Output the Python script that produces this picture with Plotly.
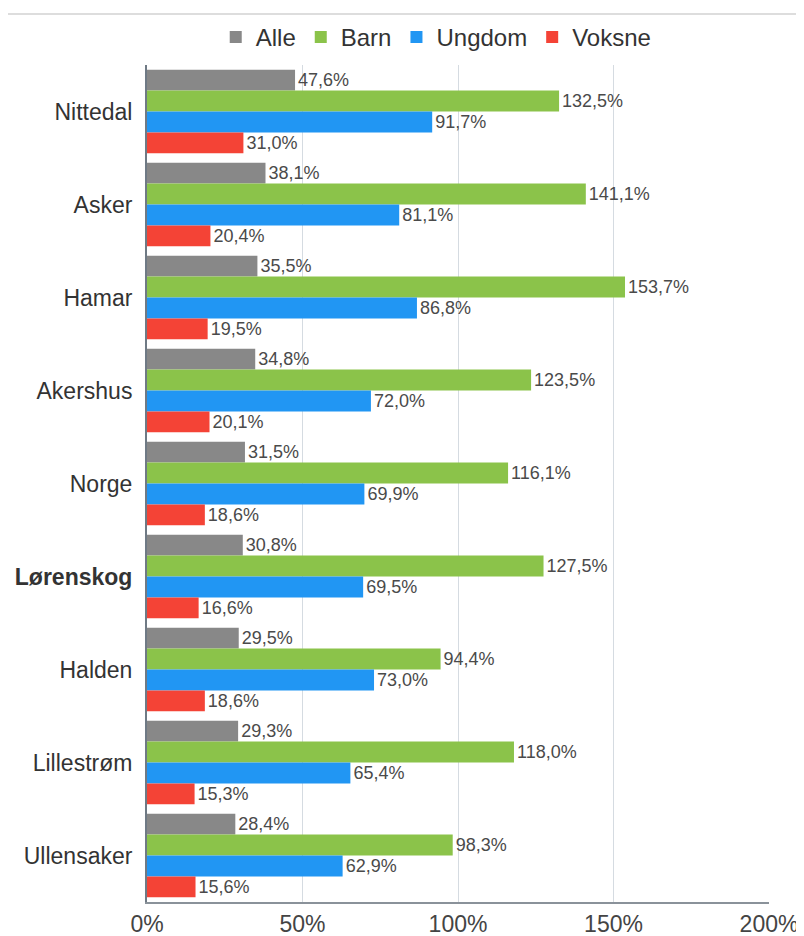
import plotly.graph_objects as go

categories = ["Nittedal", "Asker", "Hamar", "Akershus", "Norge",
              "Lørenskog", "Halden", "Lillestrøm", "Ullensaker"]
tick_labels = ["Nittedal", "Asker", "Hamar", "Akershus", "Norge",
               "<b>Lørenskog</b>", "Halden", "Lillestrøm", "Ullensaker"]

alle = [47.6, 38.1, 35.5, 34.8, 31.5, 30.8, 29.5, 29.3, 28.4]
barn = [132.5, 141.1, 153.7, 123.5, 116.1, 127.5, 94.4, 118.0, 98.3]
ungdom = [91.7, 81.1, 86.8, 72.0, 69.9, 69.5, 73.0, 65.4, 62.9]
voksne = [31.0, 20.4, 19.5, 20.1, 18.6, 16.6, 18.6, 15.3, 15.6]

series = [
    ("Alle", alle, "#888888"),
    ("Barn", barn, "#8bc34a"),
    ("Ungdom", ungdom, "#2196f3"),
    ("Voksne", voksne, "#f44336"),
]


def fmt(v):
    return f"{v:.1f}".replace(".", ",") + "%"


fig = go.Figure()
for name, vals, color in series:
    fig.add_trace(
        go.Bar(
            y=categories,
            x=vals,
            name=name,
            orientation="h",
            marker=dict(color=color, line=dict(width=0)),
            text=[fmt(v) for v in vals],
            textposition="outside",
            constraintext="none",
            cliponaxis=False,
            textfont=dict(size=18, color="#4a4a4a"),
        )
    )

# page body adds an 8px offset, so the figure is 8px smaller each way
fig.update_layout(
    width=796,
    height=928,
    barmode="group",
    bargap=0.1,
    bargroupgap=0,
    plot_bgcolor="white",
    paper_bgcolor="white",
    font=dict(family="Liberation Sans, Arial, sans-serif", color="#444444"),
    margin=dict(l=139, r=35, t=57, b=34, autoexpand=False),
    legend=dict(
        orientation="h",
        x=0.465, xanchor="center",
        y=1.033, yanchor="middle",
        font=dict(size=24, color="#333333"),
        itemwidth=30,
        traceorder="normal",
        bgcolor="rgba(0,0,0,0)",
    ),
    shapes=[
        dict(type="line", xref="paper", yref="paper",
             x0=-0.23, x1=1.06, y0=1.061, y1=1.061,
             line=dict(color="#dddddd", width=2)),
    ],
)

fig.update_xaxes(
    range=[0, 200],
    dtick=50,
    ticksuffix="%",
    showgrid=True,
    gridcolor="#d5dbe1",
    gridwidth=1,
    zeroline=False,
    showline=True,
    linecolor="#8a929a",
    linewidth=2,
    automargin=False,
    tickfont=dict(size=23, color="#444444"),
)

fig.update_yaxes(
    categoryorder="array",
    categoryarray=categories,
    tickvals=categories,
    ticktext=tick_labels,
    autorange="reversed",
    showline=True,
    linecolor="#6f7a85",
    linewidth=2,
    automargin=False,
    ticklabelstandoff=8,
    tickfont=dict(size=23, color="#333333"),
)

fig.write_html("out.html")
